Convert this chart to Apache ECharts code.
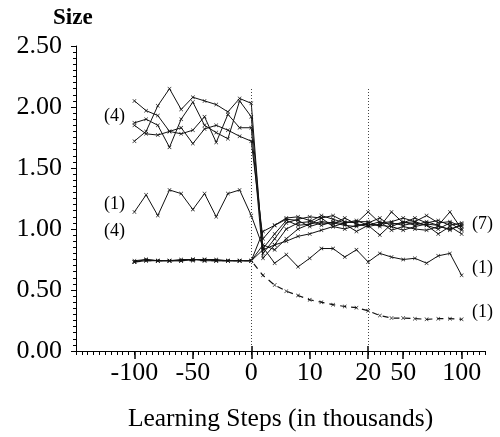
<!DOCTYPE html>
<html>
<head>
<meta charset="utf-8">
<script src="https://cdn.jsdelivr.net/npm/echarts@6/dist/echarts.min.js"></script>
<style>
html,body{margin:0;padding:0;background:#fff;}
#chart{width:500px;height:437px;}
</style>
</head>
<body>
<div id="chart"></div>
<script>
// Learning steps (in thousands) at which each series was sampled
var steps = [-100,-90,-80,-70,-60,-50,-40,-30,-20,-10,0,2,4,6,8,10,12,14,16,18,20,30,40,50,60,70,80,90,100];
// Labelled ticks on the x axis
var tickSteps = [-100,-50,0,10,20,50,100];
// Y tick labels
var yTicks = [0,0.5,1,1.5,2,2.5];
// Steps with vertical dotted reference lines
var refSteps = [0,20];
var refTop = 2.16;

// Group of 4 large nets
var a1 = [1.72,1.80,2.01,2.15,1.98,2.08,2.05,2.02,1.96,2.07,2.03, 0.80,0.92,1.05,1.08,1.10,1.09,1.11,1.06,1.05,1.14,1.05,1.06,1.09,1.06,1.11,1.05,1.06,1.02];
var a2 = [2.05,1.97,1.93,1.80,1.78,1.81,1.92,1.71,1.94,1.83,1.83, 0.76,0.87,1.00,1.05,1.06,1.11,1.08,1.05,1.06,1.06,1.02,1.14,1.05,1.09,1.05,1.07,1.03,1.05];
var a3 = [1.87,1.90,1.85,1.67,1.90,2.04,1.85,1.79,1.74,2.05,1.92, 0.84,0.96,1.07,1.03,1.04,1.06,1.05,1.03,1.02,1.05,1.09,1.02,1.06,1.03,1.06,1.03,1.14,1.00];
var a4 = [1.85,1.78,1.77,1.80,1.83,1.70,1.82,1.85,1.81,1.76,1.72, 0.92,1.03,1.08,1.07,1.02,1.05,1.04,1.09,1.04,1.02,1.04,1.05,1.03,1.05,1.03,1.00,1.05,0.99];
// Single medium net
var b1 = [1.14,1.28,1.11,1.32,1.29,1.16,1.29,1.10,1.29,1.32,1.11, 0.85,0.72,0.79,0.69,0.76,0.84,0.84,0.77,0.83,0.73,0.80,0.77,0.75,0.76,0.72,0.78,0.80,0.62];
// Group of 4 small nets
var c1 = [0.73,0.75,0.74,0.74,0.74,0.75,0.75,0.74,0.74,0.74,0.74, 0.98,1.03,1.09,1.10,1.07,1.03,1.06,1.04,0.98,1.03,1.06,0.99,1.02,1.00,0.99,1.02,1.00,1.03];
var c2 = [0.74,0.75,0.74,0.74,0.75,0.75,0.74,0.74,0.74,0.74,0.74, 0.87,0.83,0.92,1.00,1.04,1.09,1.02,1.05,1.07,1.03,0.95,1.04,1.05,1.06,1.03,0.96,1.02,0.96];
var c3 = [0.73,0.74,0.74,0.74,0.74,0.75,0.75,0.75,0.74,0.74,0.74, 0.83,0.87,0.90,0.94,0.96,0.99,1.02,1.00,1.03,1.04,1.03,1.02,0.99,1.02,1.04,1.03,0.99,1.04];
var c4 = [0.73,0.74,0.74,0.74,0.74,0.74,0.74,0.74,0.74,0.74,0.74, 0.62,0.54,0.49,0.455,0.42,0.40,0.38,0.365,0.355,0.33,0.29,0.27,0.27,0.265,0.26,0.265,0.265,0.26];

var solidSeries = [a1,a2,a3,a4,b1,c1,c2,c3];

var SERIF = '"Liberation Serif","Times New Roman",serif';
var INK = '#111';
var XMARK = 'path://M0,1L1,0L5,4L9,0L10,1L6,5L10,9L9,10L5,6L1,10L0,9L4,5Z';

function pairs(vals){ return vals.map(function(v,i){ return [i, v]; }); }
function posOf(s){ return steps.indexOf(s); }

var series = solidSeries.map(function(vals){
  return {
    type:'line', data: pairs(vals), symbol: XMARK, symbolSize: 4,
    lineStyle:{color:INK, width:1}, itemStyle:{color:INK},
    silent:true
  };
});
series.push({
  type:'line', data: pairs(c4), symbol: XMARK, symbolSize: 4,
  lineStyle:{color:INK, width:1.2, type:[6,5]}, itemStyle:{color:INK},
  silent:true,
  markLine:{
    silent:true, symbol:['none','none'], label:{show:false},
    lineStyle:{color:'#444', width:1, type:[1,2]},
    data: refSteps.map(function(s){ return [{coord:[posOf(s),0]},{coord:[posOf(s),refTop]}]; })
  }
});

var xMin = -5, xMax = 30;
var majorPos = tickSteps.map(posOf);

var chart = echarts.init(document.getElementById('chart'), null, {renderer:'canvas'});
chart.setOption({
  animation:false,
  backgroundColor:'#fff',
  grid:{left:76, right:15, top:46, bottom:86, containLabel:false},
  title:{text:'Size', left:48, top:2, textStyle:{fontFamily:SERIF, fontSize:23, fontWeight:'bold', color:'#000'}},
  xAxis:[
    {type:'value', position:'bottom', min:xMin, max:xMax, interval:0.5,
     axisLine:{show:true, onZero:false, lineStyle:{color:'#000', width:1}},
     axisTick:{show:true, length:4, lineStyle:{color:'#000'}},
     axisLabel:{show:false}, splitLine:{show:false},
     name:'Learning Steps (in thousands)', nameLocation:'middle', nameGap:55,
     nameTextStyle:{fontFamily:SERIF, fontSize:25.5, color:'#000'}},
    {type:'value', position:'bottom', min:xMin, max:xMax,
     axisLine:{show:false, onZero:false},
     axisTick:{show:true, length:8, customValues:majorPos, lineStyle:{color:'#000', width:1.5}},
     axisLabel:{show:true, customValues:majorPos, margin:9, fontFamily:SERIF, fontSize:26, color:'#000',
       formatter:function(v){ var s = steps[Math.round(v)]; return s === undefined ? '' : String(s); }},
     splitLine:{show:false}},
    {type:'value', position:'bottom', min:xMin, max:xMax,
     axisLine:{show:false, onZero:false},
     axisTick:{show:true, inside:true, length:5, customValues:refSteps.map(posOf), lineStyle:{color:'#000', width:1.5}},
     axisLabel:{show:false}, splitLine:{show:false}}
  ],
  yAxis:{type:'value', min:yTicks[0], max:yTicks[yTicks.length-1], interval:0.5,
     axisLine:{show:true, onZero:false, lineStyle:{color:'#000', width:1}},
     axisTick:{show:true, length:5, lineStyle:{color:'#000'}},
     minorTick:{show:true, splitNumber:10, length:3, lineStyle:{color:'#000'}},
     axisLabel:{margin:14, fontFamily:SERIF, fontSize:26, color:'#000', formatter:function(v){ return v.toFixed(2); }},
     splitLine:{show:false}},
  graphic:[
    {type:'text', left:104, top:107, style:{text:'(4)', font:'18px '+SERIF, fill:'#000'}},
    {type:'text', left:104, top:195, style:{text:'(1)', font:'18px '+SERIF, fill:'#000'}},
    {type:'text', left:104, top:222, style:{text:'(4)', font:'18px '+SERIF, fill:'#000'}},
    {type:'text', left:472, top:215, style:{text:'(7)', font:'18px '+SERIF, fill:'#000'}},
    {type:'text', left:472, top:259, style:{text:'(1)', font:'18px '+SERIF, fill:'#000'}},
    {type:'text', left:472, top:303, style:{text:'(1)', font:'18px '+SERIF, fill:'#000'}}
  ],
  series: series
});
</script>
</body>
</html>
